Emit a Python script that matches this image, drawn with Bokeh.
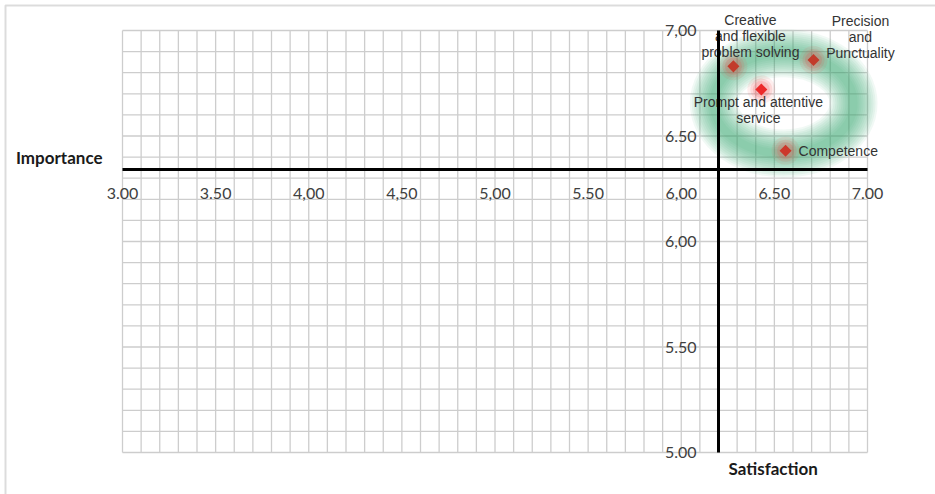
import numpy as np
from bokeh.plotting import figure
from bokeh.models import (LinearAxis, FixedTicker, Range1d, ColumnDataSource, Label,
                          BoxAnnotation)
from bokeh.core.properties import value, field
from bokeh.embed import file_html
from bokeh.resources import INLINE

# ---------------- data ----------------
attributes = ["Creative\nand flexible\nproblem solving",
              "Precision\nand\nPunctuality",
              "Prompt and attentive\nservice",
              "Competence"]
satisfaction = [6.28, 6.71, 6.43, 6.56]
importance = [6.83, 6.86, 6.72, 6.43]
marker_colors = ["#c23b2b", "#c23b2b", "#ec2a2a", "#cc372b"]

x_ticks = [3.0, 3.5, 4.0, 4.5, 5.0, 5.5, 6.0, 6.5, 7.0]
x_tick_labels = ["3.00", "3.50", "4,00", "4,50", "5,00", "5.50", "6,00", "6.50", "7.00"]
y_ticks = [5.0, 5.5, 6.0, 6.5, 7.0]
y_tick_labels = ["5.00", "5.50", "6,00", "6.50", "7,00"]

satisfaction_cross = 6.2
importance_cross = 6.34

# label placement (screen pixels, style only)
label_dx = [17, 47, -3, 13]
label_dy = [-30, -23, 20, 0]
label_align = ["center", "center", "center", "left"]

# ---------------- layout (pixels) ----------------
W, H = 935, 494
pad_left, pad_right, pad_top, pad_bottom = 122, 68, 30, 42
x0, x1 = x_ticks[0], x_ticks[-1]
y0, y1 = y_ticks[0], y_ticks[-1]
xs = (W - pad_left - pad_right) / (x1 - x0)
ys = (H - pad_top - pad_bottom) / (y1 - y0)
x_range = Range1d(x0 - pad_left / xs, x1 + pad_right / xs)
y_range = Range1d(y0 - pad_bottom / ys, y1 + pad_top / ys)

p = figure(width=W, height=H, x_range=x_range, y_range=y_range,
           x_axis_type=None, y_axis_type=None, output_backend="svg",
           toolbar_location=None, min_border=0,
           outline_line_color=None, background_fill_color="white",
           border_fill_color="white")

# fine grid (0.1 steps) restricted to the chart box
gx = np.round(np.arange(x0, x1 + 1e-9, 0.1), 2)
gy = np.round(np.arange(y0, y1 + 1e-9, 0.1), 2)
p.segment(x0=gx, y0=[y0] * len(gx), x1=gx, y1=[y1] * len(gx),
          line_color="#cdcdcd", line_width=1.3)
p.segment(x0=[x0] * len(gy), y0=gy, x1=[x1] * len(gy), y1=gy,
          line_color="#cdcdcd", line_width=1.3)

# green highlight ring derived from the data cluster (soft, layered stroke)
cx = (min(satisfaction) + max(satisfaction)) / 2 + 0.055
cy = (min(importance) + max(importance)) / 2 + 0.01
rw = (max(satisfaction) - min(satisfaction)) + 0.32
rh = (max(importance) - min(importance)) + 0.045
for w in range(48, 4, -4):
    p.ellipse(x=[cx], y=[cy], width=[rw], height=[rh], fill_color=None,
              line_color="#2fa868", line_alpha=0.065, line_width=w)

src = ColumnDataSource(dict(x=satisfaction, y=importance, label=attributes,
                            color=marker_colors, dx=label_dx, dy=label_dy,
                            align=label_align))

for s, a in [(28, 0.09), (22, 0.13), (17, 0.18)]:
    p.scatter("x", "y", source=src, size=s, marker="circle",
              fill_color="#f04848", fill_alpha=a, line_color=None)
p.scatter("x", "y", source=src, marker="square", angle=np.pi / 4, size=8.5,
          fill_color="color", line_color=None)

p.text("x", "y", text="label", source=src, x_offset="dx", y_offset="dy",
       text_align=field("align"), text_baseline="middle",
       text_font=value("Liberation Sans"), text_font_size="14px",
       text_color="#333333", text_line_height=1.0)

# axes crossing inside the plot
xaxis = LinearAxis(fixed_location=importance_cross, ticker=FixedTicker(ticks=x_ticks),
                   bounds=(x0, x1),
                   major_label_overrides=dict(zip(x_ticks, x_tick_labels)),
                   axis_line_width=3, axis_line_color="black",
                   major_tick_line_color=None, minor_tick_line_color=None,
                   major_label_standoff=12, major_label_text_font="Lato",
                   major_label_text_font_size="16px", major_label_text_color="#404040")
p.add_layout(xaxis, "below")

yaxis = LinearAxis(fixed_location=satisfaction_cross, ticker=FixedTicker(ticks=y_ticks),
                   bounds=(y0, y1),
                   major_label_overrides=dict(zip(y_ticks, y_tick_labels)),
                   axis_line_width=3, axis_line_color="black",
                   major_tick_line_color=None, minor_tick_line_color=None,
                   major_label_standoff=16, major_label_text_font="Lato",
                   major_label_text_font_size="16px", major_label_text_color="#404040")
p.add_layout(yaxis, "left")

p.add_layout(Label(x=x0, y=importance_cross, text="Importance", x_offset=-20, y_offset=2,
                   text_align="right", text_baseline="bottom", text_font="Lato",
                   text_font_style="bold", text_font_size="17px", text_color="#1a1a1a"))
p.add_layout(Label(x=satisfaction_cross, y=y0, text="Satisfaction", x_offset=10,
                   y_offset=-5, text_align="left", text_baseline="top", text_font="Lato",
                   text_font_style="bold", text_font_size="17px", text_color="#1a1a1a"))

p.add_layout(BoxAnnotation(left=5, right=990, top=5, bottom=560,
                           left_units="canvas", right_units="canvas",
                           top_units="canvas", bottom_units="canvas",
                           fill_color=None, line_color="#8c8c8c", line_width=2,
                           level="overlay"))

open("out.html", "w").write(file_html(p, INLINE))
